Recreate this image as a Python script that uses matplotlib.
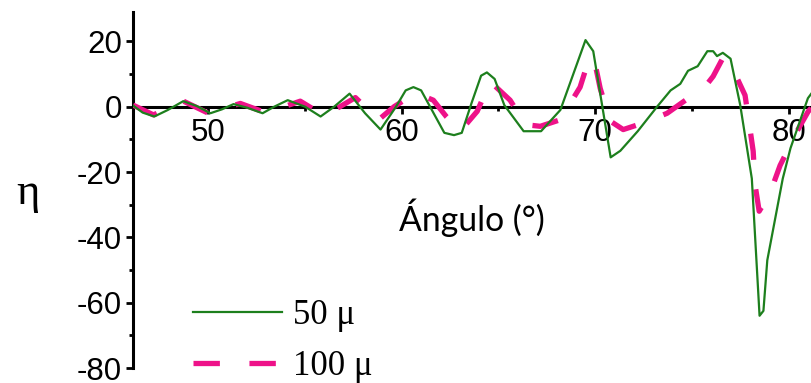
import matplotlib
matplotlib.use("Agg")
import matplotlib.pyplot as plt
from matplotlib.ticker import MultipleLocator

plt.rcParams['axes.unicode_minus'] = False

# ---- data ----
theta_50 = [46.12, 46.6, 47.2, 47.9, 48.7, 49.4, 50.1, 50.7, 51.3, 52.0, 52.8, 53.4,
            54.1, 55.0, 55.8, 56.5, 57.3, 58.1, 58.9, 59.7, 60.2, 60.6, 61.0, 61.6,
            62.2, 62.7, 63.1, 63.6, 64.1, 64.4, 64.8, 65.3, 66.3, 67.2, 68.2, 69.5,
            69.9, 70.8, 71.3, 72.2, 73.2, 73.9, 74.4, 74.8, 75.3, 75.8, 76.1, 76.3,
            76.6, 77.0, 77.5, 78.1, 78.5, 78.7, 78.9, 79.7, 80.1, 81.0, 81.3]
eta_50 = [0.3, -1.8, -3.0, -1.0, 1.7, 0.2, -2.0, -0.8, 0.8, -0.3, -2.0, 0.0,
          2.0, 0.0, -3.0, 0.0, 4.0, -2.0, -7.0, 0.0, 5.0, 6.0, 5.0, -1.5,
          -8.0, -8.7, -8.0, 1.0, 9.5, 10.5, 8.5, 0.5, -7.5, -7.5, -1.0, 20.4,
          17.0, -15.5, -13.5, -7.5, 0.0, 5.0, 7.0, 11.0, 12.4, 17.0, 17.0, 15.5,
          16.5, 14.7, 0.5, -22.0, -64.0, -62.5, -47.0, -22.0, -12.7, 2.6, 5.0]

theta_100 = [46.1, 47.16, 47.9, 48.71, 50.0, 50.8, 51.65, 53.05, 53.9, 54.75, 55.94,
             56.8, 57.6, 58.8, 59.6, 60.34, 60.8, 61.63, 62.3, 63.02, 63.9, 64.57,
             65.6, 66.4, 67.16, 68.19, 69.22, 69.7, 70.0, 70.26, 70.78, 71.45, 72.17,
             72.9, 73.72, 74.91, 75.6, 76.1, 76.61, 76.98, 77.75, 78.0, 78.17, 78.27,
             78.48, 79.04, 79.56, 80.44, 81.01, 81.3]
eta_100 = [0.5, -2.5, -0.5, 1.7, -2.0, -0.5, 1.0, -2.0, 0.0, 1.7, -2.6,
           0.0, 2.8, -4.0, 0.0, 2.8, 4.0, 2.0, -3.0, -7.5, -1.4, 7.7,
           2.0, -5.5, -6.0, -4.0, 6.0, 15.0, 13.0, 5.6, -4.4, -7.0, -5.6,
           -4.0, -2.0, 3.0, 5.5, 9.3, 15.0, 13.3, 3.5, -6.6, -13.6, -24.0,
           -32.0, -26.5, -18.0, -7.5, -1.5, 0.5]

labels = ["50 \u03bc", "100 \u03bc"]
colors = ["#1d7f1d", "#ee1289"]
xticks = [50, 60, 70, 80]
yticks = [20, 0, -20, -40, -60, -80]

W, H = 811, 383
fig = plt.figure(figsize=(W / 100, H / 100), dpi=100)
ax = fig.add_axes([133 / W, 15 / H, 1 - 133 / W, (368 - 12) / H])

ax.plot(theta_50, eta_50, color=colors[0], lw=1.6, label=labels[0], zorder=4)
ax.plot(theta_100, eta_100, color=colors[1], lw=3.8, dashes=(5.0, 5.6),
        label=labels[1], zorder=3)

ax.set_xlim(46.1, 81.16)
ax.set_ylim(-80, 29)

for s in ("top", "right"):
    ax.spines[s].set_visible(False)
ax.spines["bottom"].set_position(("data", 0))
ax.spines["left"].set_bounds(-80, 29)
for s in ("bottom", "left"):
    ax.spines[s].set_linewidth(2.2)
    ax.spines[s].set_zorder(2)

ax.set_xticks(xticks)
ax.set_xticklabels([str(v) for v in xticks])
ax.set_yticks(yticks)
ax.set_yticklabels([str(v) for v in yticks])
ax.xaxis.set_minor_locator(MultipleLocator(5))
ax.yaxis.set_minor_locator(MultipleLocator(10))
ax.tick_params(axis="both", which="major", labelsize=22.5, width=2, length=5,
               direction="out", pad=3)
ax.tick_params(axis="both", which="minor", width=2, length=3, direction="out")
for lab in ax.get_xticklabels() + ax.get_yticklabels():
    lab.set_fontfamily("Liberation Sans")

fig.text(28 / W, 1 - 193 / H, "\u03b7", fontsize=32, family="Liberation Serif",
         ha="center", va="center")
fig.text(472 / W, 1 - 231 / H, "\u00c1ngulo (\u00b0)", fontsize=24.3, family="Lato",
         ha="center", va="baseline")

leg = ax.legend(loc="center left", bbox_to_anchor=(193 / W, 1 - 341 / H),
                bbox_transform=fig.transFigure, frameon=False,
                prop={"family": "Liberation Serif", "size": 25},
                handlelength=2.56, handletextpad=0.32, borderpad=0,
                borderaxespad=0, labelspacing=0.52)

fig.savefig("out.png", dpi=100)
